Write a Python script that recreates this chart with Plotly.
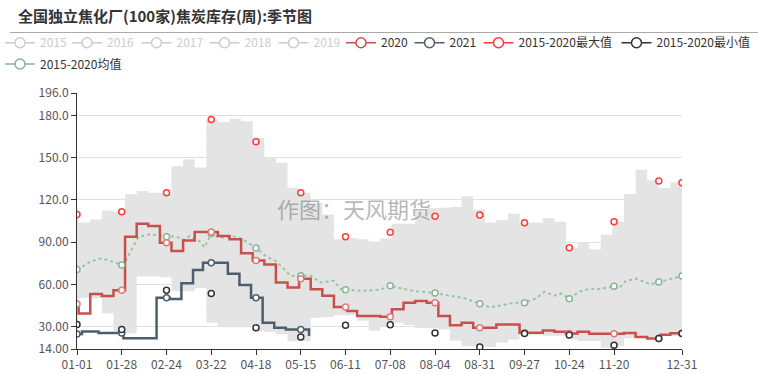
import pandas as pd
import plotly.graph_objects as go

# ---------------- data ----------------
categories = pd.date_range("2020-01-01", "2020-12-31", freq="D").strftime("%m-%d").tolist()
tick_labels = ["01-01", "01-28", "02-24", "03-22", "04-18", "05-15", "06-11", "07-08",
               "08-04", "08-31", "09-27", "10-24", "11-20", "12-31"]
marker_dates = ["01-01", "01-28", "02-24", "03-22", "04-18", "05-15", "06-11", "07-08",
                "08-04", "08-31", "09-27", "10-24", "11-20", "12-17", "12-31"]
y_tick_values = [14, 30, 60, 90, 120, 150, 180, 196]
y_tick_labels = ["14.00", "30.00", "60.00", "90.00", "120.0", "150.0", "180.0", "196.0"]

# 2015-2020 range band (weekly steps)
band_dates = ["01-01", "01-02", "01-09", "01-16", "01-23", "01-30", "02-06", "02-13", "02-20", "02-27",
              "03-05", "03-12", "03-19", "03-26", "04-02", "04-09", "04-16", "04-23", "04-30", "05-07",
              "05-14", "05-21", "05-28", "06-04", "06-11", "06-18", "06-25", "07-02", "07-09", "07-16",
              "07-23", "07-30", "08-06", "08-13", "08-20", "08-27", "09-03", "09-10", "09-17", "09-24",
              "10-01", "10-08", "10-15", "10-22", "10-29", "11-05", "11-12", "11-19", "11-26", "12-03",
              "12-10", "12-17", "12-24", "12-31"]
band_upper = [110, 104, 106, 112.5, 111.6, 124, 126.3, 125.1, 125.1, 144,
              148.8, 143, 176.8, 175.4, 177.7, 176, 164.2, 150, 146.5, 128.7,
              125.1, 118, 109.7, 92, 93, 92, 90.5, 92.5, 103, 103,
              112, 114, 114.5, 115, 122.6, 113, 104, 105.7, 110.2, 104,
              104, 107, 104.5, 86, 90, 85, 95.3, 104.7, 124.2, 141.5,
              134, 128.5, 132.5, 132.5]
band_lower = [30, 50, 50, 39.5, 26.4, 25, 65.6, 65.6, 65, 55,
              55, 57.4, 32.6, 29.5, 29.5, 29.4, 26.6, 26, 24.5, 19.5,
              19.5, 36.3, 36.5, 38, 38, 34, 27, 30, 32.7, 31,
              29, 29, 28, 20, 16, 16, 15.5, 18.5, 20.8, 24.2,
              24.2, 23.4, 23.4, 20.8, 19.7, 19.7, 14.9, 16, 21.6, 21.8,
              21, 23.2, 23.2, 23.2]

# 2020 (weekly steps)
s2020_dates = ["01-01", "01-02", "01-09", "01-16", "01-23", "01-30", "02-06", "02-13", "02-20", "02-27",
               "03-05", "03-12", "03-26", "04-02", "04-09", "04-16", "04-23", "04-30", "05-07", "05-14",
               "05-21", "05-28", "06-04", "06-12", "06-18", "07-02", "07-09", "07-16", "07-23", "07-30",
               "08-06", "08-13", "08-20", "08-27", "09-10", "09-24", "10-08", "10-15", "10-22", "10-29",
               "11-05", "11-26", "12-03", "12-10", "12-18", "12-24", "12-31"]
s2020_values = [46, 39.3, 53.1, 51.7, 55.7, 93.8, 103, 101.4, 89.5, 83.7,
                91.2, 97.2, 94.3, 92, 82, 77, 74.1, 61.2, 57.8, 64,
                56.4, 51.9, 43.9, 41, 37.5, 37, 42.2, 46.9, 48.1, 46.9,
                37.5, 30.8, 32.7, 29.1, 31.5, 25.6, 27.2, 26.3, 25, 26.2,
                24.8, 25.3, 22.5, 21.5, 24.2, 25.2, 25.2]

# 2021 (weekly steps)
s2021_dates = ["01-01", "01-04", "01-14", "01-29", "02-18", "02-26", "03-04", "03-11", "03-17", "04-01",
               "04-08", "04-15", "04-22", "04-29", "05-06", "05-20"]
s2021_values = [24.7, 26.4, 25.3, 21.6, 50.5, 49.6, 60.7, 70.1, 75.3, 67.5,
                59.5, 50.5, 32.6, 29.1, 27.8, 23.2]

# 2015-2020 mean
mean_dates = ["01-01", "01-03", "01-09", "01-15", "01-19", "01-23", "01-28", "01-30", "02-02", "02-05",
              "02-07", "02-14", "02-24", "02-26", "03-01", "03-05", "03-09", "03-15", "03-18", "03-22",
              "03-27", "04-04", "04-10", "04-18", "04-24", "04-30", "05-03", "05-09", "05-15", "05-21",
              "05-27", "06-04", "06-08", "06-11", "06-22", "07-02", "07-08", "07-16", "07-24", "08-04",
              "08-13", "08-21", "08-31", "09-06", "09-14", "09-20", "09-27", "10-04", "10-09", "10-15",
              "10-19", "10-24", "10-30", "11-06", "11-11", "11-20", "11-23", "11-27", "12-03", "12-09",
              "12-12", "12-17", "12-24", "12-31"]
mean_values = [70.6, 71.7, 76, 78.4, 77.5, 76, 73.7, 76, 82.5, 88.4,
               93.5, 95.5, 93.8, 94, 94, 91.6, 94.3, 90.5, 86.3, 96.2,
               93, 94.3, 92, 85.8, 80, 76.5, 73, 66, 66, 66,
               61.3, 62.5, 56.6, 56.2, 55.4, 56.2, 59, 56.7, 55, 53.8,
               51.8, 50.3, 46.2, 43.6, 45.2, 46.8, 46.9, 50, 54.7, 51.9,
               53.5, 49.8, 54.8, 56.9, 56.5, 58.6, 57.1, 62.3, 64.1, 61.6,
               60, 61.6, 63.5, 65.9]

# 2015-2020 max / min (at label dates)
max_values = [109.7, 111.6, 125.1, 177.2, 161.4, 125.1, 93.8, 97, 108.3, 109.3, 103.8, 86, 104.5, 133.4, 132.2]
min_values = [31.4, 27.9, 55.7, 53.5, 29.1, 22.5, 30.8, 31.3, 25.4, 15.4, 25.1, 24, 16.6, 21.5, 25.1]

hidden_years = ["2015", "2016", "2017", "2018", "2019"]

# ---------------- styles ----------------
W, H = 761, 374
L, R, T, B = 77, 79, 93, 25
PW, PH = W - L - R, H - T - B
FONT = "Noto Sans CJK SC, Microsoft YaHei, sans-serif"
C2020 = "#c8504c"
C2021 = "#4f5e6c"
CMAX = "#ff3b3b"
CMIN = "#333333"
CMEAN = "#9cc3a6"
CBAND = "#e4e4e4"

idx = {c: i for i, c in enumerate(categories)}


def step_at(dates, values, d):
    pos = [idx[x] for x in dates]
    t = idx[d]
    v = None
    for p, val in zip(pos, values):
        if p <= t:
            v = val
    return v


fig = go.Figure()

# band
fig.add_trace(go.Scatter(x=band_dates, y=band_lower, mode="lines", line=dict(width=0, shape="hv"),
                         showlegend=False, hoverinfo="skip"))
fig.add_trace(go.Scatter(x=band_dates, y=band_upper, mode="lines", line=dict(width=0, shape="hv"),
                         fill="tonexty", fillcolor=CBAND, showlegend=False, hoverinfo="skip"))

# mean
fig.add_trace(go.Scatter(x=mean_dates, y=mean_values, mode="lines",
                         line=dict(color=CMEAN, width=2, dash="dot"), showlegend=False))
# 2020
fig.add_trace(go.Scatter(x=s2020_dates, y=s2020_values, mode="lines",
                         line=dict(color=C2020, width=2.5, shape="hv"), showlegend=False))
# 2021
fig.add_trace(go.Scatter(x=s2021_dates, y=s2021_values, mode="lines",
                         line=dict(color=C2021, width=2.5, shape="hv"), showlegend=False))


def add_markers(xs, ys, color):
    fig.add_trace(go.Scatter(x=xs, y=ys, mode="markers", showlegend=False,
                             marker=dict(symbol="circle", size=6, color="white",
                                         line=dict(color=color, width=1.5))))


add_markers(marker_dates, [mean_values[mean_dates.index(d)] for d in marker_dates], "#88b695")
add_markers(marker_dates, [step_at(s2020_dates, s2020_values, d) for d in marker_dates], "#e07c78")
m21 = [d for d in marker_dates if idx[d] <= idx[s2021_dates[-1]]]
add_markers(m21, [step_at(s2021_dates, s2021_values, d) for d in m21], C2021)
add_markers(marker_dates, max_values, CMAX)
add_markers(marker_dates, min_values, CMIN)

# ---------------- legend entries ----------------
legend_items = [(y, "#cccccc", "#cccccc") for y in hidden_years] + [
    ("2020", C2020, "#333333"),
    ("2021", C2021, "#333333"),
    ("2015-2020最大值", CMAX, "#333333"),
    ("2015-2020最小值", CMIN, "#333333"),
    ("2015-2020均值", "#88b695", "#333333"),
]
legend_centers = [(19, 42.7), (88, 42.7), (157.5, 42.7), (225.5, 42.7), (294.5, 42.7),
                  (362, 42.7), (430.5, 42.7), (499.5, 42.7), (637.5, 42.7), (19, 64)]

layout_legends = {}
for i, ((name, col, tcol), (cx, cy)) in enumerate(zip(legend_items, legend_centers)):
    key = "legend" if i == 0 else f"legend{i + 1}"
    fig.add_trace(go.Scatter(x=[None], y=[None], mode="lines+markers", name=name, legend=key,
                             line=dict(color=col, width=1.5),
                             marker=dict(symbol="circle", size=10, color="white",
                                         line=dict(color=col, width=1.5))))
    layout_legends[key] = dict(
        xref="container", yref="container", x=(cx - 21) / W, y=1 - cy / H,
        xanchor="left", yanchor="middle", orientation="h",
        bgcolor="rgba(0,0,0,0)", itemwidth=30,
        font=dict(family=FONT, size=12, color=tcol))

fig.update_layout(
    width=W, height=H,
    margin=dict(l=L, r=R, t=T, b=B, autoexpand=False),
    paper_bgcolor="white", plot_bgcolor="white",
    font=dict(family=FONT, size=12, color="#555"),
    hovermode=False,
    title=dict(text="<b>全国独立焦化厂(100家)焦炭库存(周):季节图</b>",
               xref="container", yref="container", x=18 / W, y=1 - 17 / H,
               xanchor="left", yanchor="middle",
               font=dict(family=FONT, size=15, color="#333")),
    xaxis=dict(type="category", categoryorder="array", categoryarray=categories,
               range=[0, len(categories) - 1],
               tickmode="array", tickvals=tick_labels, ticktext=tick_labels,
               ticks="outside", ticklen=5, tickcolor="#333",
               showline=True, linecolor="#333", linewidth=1,
               showgrid=False, zeroline=False,
               tickfont=dict(family=FONT, size=12, color="#555")),
    yaxis=dict(range=[14, 196], tickmode="array", tickvals=y_tick_values, ticktext=y_tick_labels,
               ticks="outside", ticklen=5, tickcolor="#333",
               showline=True, linecolor="#333", linewidth=1,
               showgrid=True, gridcolor="#e0e0e0", zeroline=False,
               tickfont=dict(family=FONT, size=12, color="#555")),
    shapes=[dict(type="line", xref="paper", yref="paper",
                 x0=(10 - L) / PW, x1=(758 - L) / PW,
                 y0=(H - B - 32.5) / PH, y1=(H - B - 32.5) / PH,
                 line=dict(color="#aaaaaa", width=1))],
    annotations=[dict(text="作图：天风期货", xref="paper", yref="paper",
                      x=(354 - L) / PW, y=(H - B - 208) / PH,
                      xanchor="center", yanchor="middle", showarrow=False,
                      font=dict(family=FONT, size=22, color="rgba(120,120,120,0.55)"))],
    **layout_legends,
)

fig.write_html("out.html")
